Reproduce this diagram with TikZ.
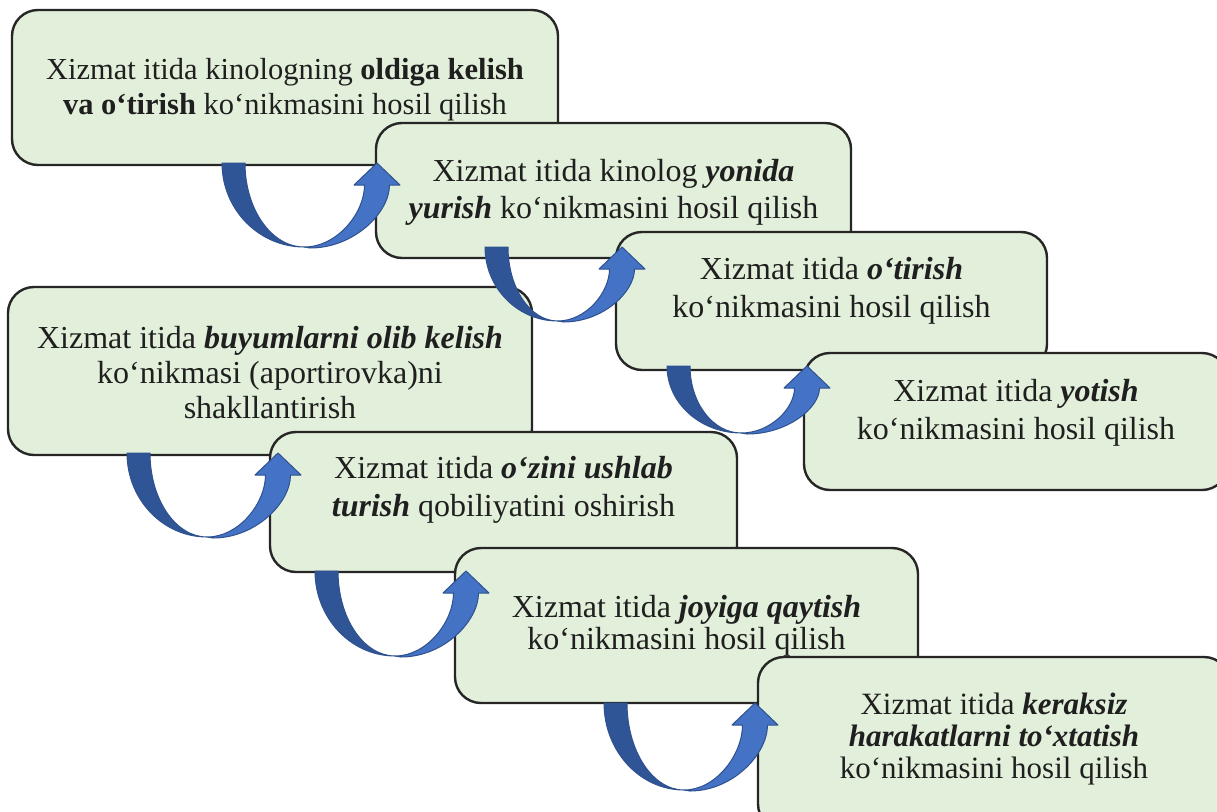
\documentclass[tikz,border=0pt]{standalone}
\usepackage{fontspec}
\setmainfont{Liberation Serif}
\definecolor{boxfill}{HTML}{E2EFDA}
\definecolor{boxline}{HTML}{262626}
\definecolor{txtcol}{HTML}{1F1F1F}
\definecolor{arrdark}{HTML}{2F5597}
\definecolor{arrlight}{HTML}{4472C4}
\definecolor{arredge}{HTML}{2F528F}
\tikzset{
  box/.style={draw=boxline, line width=2.4pt, fill=boxfill, rounded corners=26pt, inner sep=0pt},
  txt/.style={align=center, text=txtcol, inner sep=0pt, font=\fontsize{32}{37}\selectfont},
  pics/carrow/.style 2 args={code={
    \pgfmathsetmacro\bx{0.53*#1}
    \pgfmathsetmacro\ci{\bx+0.55*(#1-12.5-\bx)}
    \pgfmathsetmacro\co{\bx+6+0.55*(#1+12.5-\bx-6)}
    \pgfmathsetmacro\cy{22+0.45*(#2-22)}
    \fill[arrdark, draw=arredge, line width=1pt, line join=round]
      (0,0) .. controls (0,{0.552*#2}) and ({0.448*\bx},#2) .. (\bx,#2)
      .. controls ({\bx-0.552*(\bx-23)},#2) and (23,{0.552*#2}) .. (23,0) -- cycle;
    \fill[arrlight, draw=arredge, line width=1pt, line join=round]
      (\bx,#2) .. controls (\ci,#2) and ({#1-12.5},\cy) .. ({#1-12.5},22)
      -- ({#1-23},22) -- (#1,0) -- ({#1+23},22) -- ({#1+12.5},22)
      .. controls ({#1+12.5},\cy) and (\co,{#2+1}) .. ({\bx+6},{#2+1}) -- cycle;
  }}
}
\begin{document}
\begin{tikzpicture}[x=1pt,y=-1pt]
\useasboundingbox (0,0) rectangle (1217,811);
\fill[white] (0,0) rectangle (1217,811);
\clip (0,0) rectangle (1217,811);

% boxes (drawn in stacking order)
\node[box, minimum width=546, minimum height=155] (A) at (285,87.5) {};
\node[txt, font=\fontsize{30.5}{35}\selectfont] (At) at (285,90)
  {Xizmat itida kinologning \textbf{oldiga kelish}\\ \textbf{va o‘tirish} ko‘nikmasini hosil qilish};

\node[box, minimum width=475, minimum height=135] (B) at (613.5,190.5) {};
\node[txt] (Bt) at (613.5,192)
  {Xizmat itida kinolog \textbf{\textit{yonida}}\\ \textbf{\textit{yurish}} ko‘nikmasini hosil qilish};

\node[box, minimum width=431, minimum height=138] (C) at (831.5,301) {};
\node[txt, font=\fontsize{32}{38}\selectfont] (Ct) at (831.5,291)
  {Xizmat itida \textbf{\textit{o‘tirish}}\\ ko‘nikmasini hosil qilish};

\node[box, minimum width=424, minimum height=137] (D) at (1016,421.5) {};
\node[txt, font=\fontsize{32}{38}\selectfont] (Dt) at (1016,413)
  {Xizmat itida \textbf{\textit{yotish}}\\ ko‘nikmasini hosil qilish};

\node[box, minimum width=524, minimum height=168] (E) at (270,371) {};
\node[txt, font=\fontsize{32}{35}\selectfont] (Et) at (270,373)
  {Xizmat itida \textbf{\textit{buyumlarni olib kelish}}\\ ko‘nikmasi (aportirovka)ni\\ shakllantirish};

\node[box, minimum width=467, minimum height=140] (F) at (503.5,502) {};
\node[txt, font=\fontsize{32}{38}\selectfont] (Ft) at (503.5,490)
  {Xizmat itida \textbf{\textit{o‘zini ushlab}}\\ \textbf{\textit{turish}} qobiliyatini oshirish};

\node[box, minimum width=463, minimum height=155] (G) at (686.5,625.5) {};
\node[txt, font=\fontsize{32}{32}\selectfont] (Gt) at (686.5,626)
  {Xizmat itida \textbf{\textit{joyiga qaytish}}\\ ko‘nikmasini hosil qilish};

\node[box, minimum width=472, minimum height=173] (H) at (994,743.5) {};
\node[txt, font=\fontsize{31}{31.7}\selectfont] (Ht) at (994,739)
  {Xizmat itida \textbf{\textit{keraksiz}}\\ \textbf{\textit{harakatlarni to‘xtatish}}\\ ko‘nikmasini hosil qilish};

% curved arrows
\pic (a1) at (222,163) {carrow={155}{84}};
\pic (a2) at (485,247) {carrow={137}{74}};
\pic (a3) at (667,366) {carrow={140}{67}};
\pic (a4) at (127,453) {carrow={151}{84}};
\pic (a5) at (315,571) {carrow={151}{85}};
\pic (a6) at (604,703) {carrow={151}{87}};
\end{tikzpicture}
\end{document}
